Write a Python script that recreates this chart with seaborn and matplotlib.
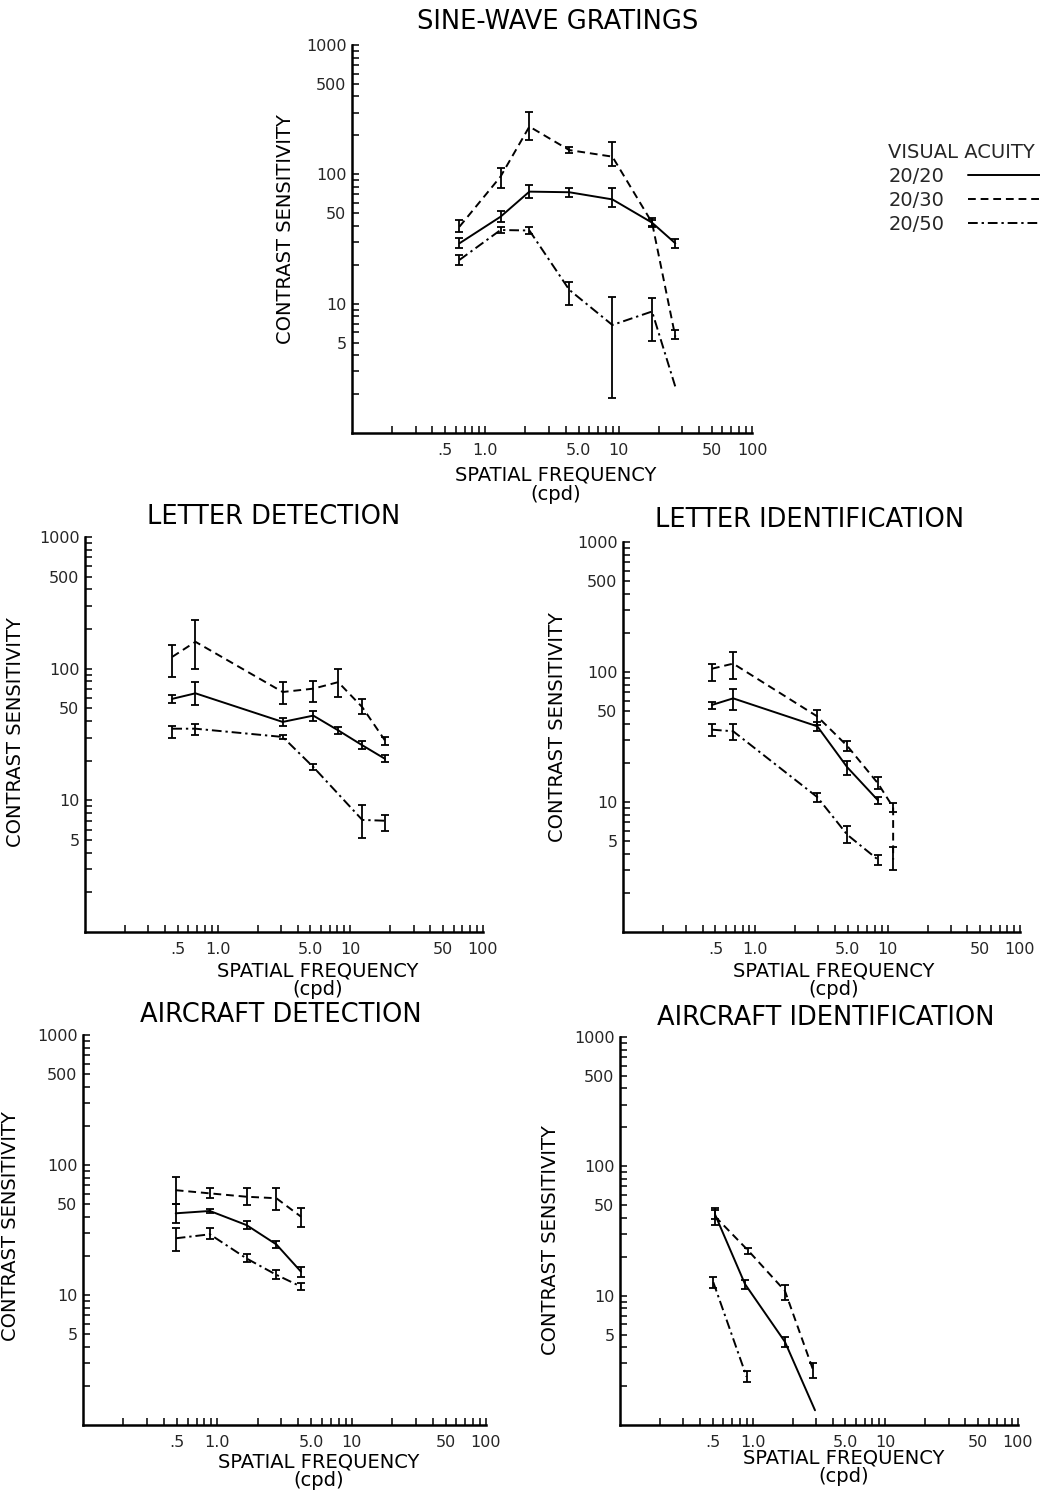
import matplotlib
matplotlib.use("Agg")
import matplotlib.pyplot as plt
import pandas as pd
import seaborn as sns
from matplotlib.lines import Line2D
from matplotlib.ticker import FixedLocator, FixedFormatter, NullFormatter

# ---------- DATA ----------
ACUITY = ["20/20", "20/30", "20/50"]

# sine-wave gratings
sw_f = [0.64, 1.3, 2.14, 4.26, 8.97, 17.8, 26.6]
sw20_cs = [29.3, 47, 73.5, 72.7, 64, 42.3, 29.3]
sw20_lo = [27, 43, 65.4, 67.3, 55.6, 39.5, 27]
sw20_hi = [32.2, 51.6, 82.6, 77.9, 77.9, 45.8, 31.5]
sw30_cs = [39.4, 96, 234, 154, 137, 42.3, 5.56]
sw30_lo = [36, 78, 184, 146, 115, 40, 5.3]
sw30_hi = [44.4, 111, 305, 163, 179, 44, 6.3]
sw50_cs = [21.8, 37.1, 36.8, 12.8, 6.84, 8.7, 2.28]
sw50_lo = [19.9, 35, 34.3, 9.8, 1.87, 5.1, 2.28]
sw50_hi = [23.8, 39.4, 39.4, 14.8, 11.3, 11, 2.28]

# letter detection
ld_f = [0.455, 0.68, 3.09, 5.26, 8.1, 12.3, 18.2]
ld20_cs = [59, 65, 39.4, 44, 34, 26.2, 20.7]
ld20_lo = [55, 53, 37, 40, 32, 24.5, 19.5]
ld20_hi = [63, 79, 42, 48, 36, 28, 22]
ld30_cs = [123, 160, 66.5, 70.5, 79, 51, 28.6]
ld30_lo = [86, 100, 54, 56, 61, 45, 26.5]
ld30_hi = [150, 233, 79, 81, 100, 59, 30.5]
ld50_f = [0.455, 0.68, 3.09, 5.26, 12.3, 18.2]
ld50_cs = [35, 35, 30.3, 17.9, 7.1, 7.0]
ld50_lo = [30, 31.5, 29, 17, 5.2, 5.9]
ld50_hi = [37, 38, 31.5, 18.8, 9.2, 7.7]

# letter identification
li_f = [0.47, 0.68, 2.94, 4.95, 8.45]
li20_cs = [55.8, 62.7, 38.2, 18.5, 10.3]
li20_lo = [52, 51, 35, 16.2, 9.6]
li20_hi = [59, 74.6, 41, 20.7, 11]
li30_f = [0.47, 0.68, 2.94, 4.95, 8.45, 11.0, 11.0]
li30_cs = [106, 116, 45.5, 27, 13.9, 9.1, 3.6]
li30_lo = [86, 89, 39, 24.5, 12.5, 8.4, 3.0]
li30_hi = [116, 142, 51, 29.5, 15.5, 9.8, 4.5]
li50_cs = [36, 35, 10.9, 5.6, 3.6]
li50_lo = [32, 30, 10, 4.8, 3.3]
li50_hi = [40, 39.5, 11.8, 6.5, 3.9]

# aircraft detection
ad_f = [0.49, 0.88, 1.65, 2.75, 4.2]
ad20_cs = [42.5, 44.3, 34.5, 24.5, 15.1]
ad20_lo = [36, 42.5, 32, 23, 13.8]
ad20_hi = [50, 46, 37, 26, 16.5]
ad30_cs = [64, 60.5, 57, 55.5, 40]
ad30_lo = [50, 55.5, 49, 45, 33.6]
ad30_hi = [81, 66, 66, 66, 46.4]
ad50_cs = [27.3, 29.3, 19.1, 14.3, 11.6]
ad50_lo = [21.7, 27, 18, 13.2, 10.9]
ad50_hi = [33, 33, 20.5, 15.5, 12.3]

# aircraft identification
ai20_f = [0.52, 0.875, 1.75, 2.95]
ai20_cs = [42.5, 12.3, 4.4, 1.3]
ai20_lo = [39, 11.3, 4.0, 1.3]
ai20_hi = [46, 13.3, 4.8, 1.3]
ai30_f = [0.52, 0.93, 1.75, 2.86]
ai30_cs = [41, 22.2, 10.9, 2.65]
ai30_lo = [35, 21, 9.2, 2.3]
ai30_hi = [48, 23.5, 12, 3.0]
ai50_f = [0.505, 0.9]
ai50_cs = [12.7, 2.36]
ai50_lo = [11.5, 2.15]
ai50_hi = [14, 2.6]

X_TICKS = [0.5, 1, 5, 10, 50, 100]
X_LABELS = [".5", "1.0", "5.0", "10", "50", "100"]
Y_TICKS = [5, 10, 50, 100, 500, 1000]
Y_LABELS = ["5", "10", "50", "100", "500", "1000"]

# ---------- STYLE ----------
sns.set_theme(style="ticks")
plt.rcParams["font.family"] = ["DejaVu Sans"]
DASHES = {"20/20": "", "20/30": (4, 2.5), "20/50": (5, 2, 1.2, 2)}
LW = 1.4

fig = plt.figure(figsize=(10.4, 14.94), dpi=100)
W, H = 1040, 1494


def add_ax(left, right, top, bottom):
    return fig.add_axes([left / W, 1 - bottom / H, (right - left) / W, (bottom - top) / H])


def draw_panel(ax, series, ylab_xy, xlab_xy):
    frames = []
    for acu, (f, cs, lo, hi) in zip(ACUITY, series):
        frames.append(pd.DataFrame({"freq": f, "cs": cs, "lo": lo, "hi": hi, "acuity": acu}))
    df = pd.concat(frames, ignore_index=True)

    ax.set_xscale("log")
    ax.set_yscale("log")
    sns.lineplot(data=df, x="freq", y="cs", style="acuity", style_order=ACUITY,
                 dashes=DASHES, color="black", lw=LW, estimator=None, sort=False,
                 legend=False, ax=ax)
    eb = df[df["hi"] > df["lo"]]
    ax.errorbar(eb["freq"], eb["cs"], yerr=[eb["cs"] - eb["lo"], eb["hi"] - eb["cs"]],
                fmt="none", ecolor="black", elinewidth=1.3, capsize=3, capthick=1.3)

    ax.set_xlim(0.1, 100)
    ax.set_ylim(1, 1000)
    minor_x = [k * 10.0 ** e for e in (-1, 0, 1) for k in range(2, 10)]
    minor_y = [k * 10.0 ** e for e in (0, 1, 2) for k in range(2, 10)]
    ax.xaxis.set_major_locator(FixedLocator(X_TICKS))
    ax.xaxis.set_major_formatter(FixedFormatter(X_LABELS))
    ax.xaxis.set_minor_locator(FixedLocator(minor_x))
    ax.xaxis.set_minor_formatter(NullFormatter())
    ax.yaxis.set_major_locator(FixedLocator(Y_TICKS))
    ax.yaxis.set_major_formatter(FixedFormatter(Y_LABELS))
    ax.yaxis.set_minor_locator(FixedLocator(minor_y))
    ax.yaxis.set_minor_formatter(NullFormatter())
    ax.tick_params(which="both", direction="in", length=5, width=1.1, color="black")
    ax.tick_params(axis="x", which="major", pad=7, labelsize=11.5)
    ax.tick_params(axis="y", which="major", pad=4, labelsize=11.5)
    sns.despine(ax=ax)
    for s in ("left", "bottom"):
        ax.spines[s].set_linewidth(1.8)
        ax.spines[s].set_color("black")

    ax.set_ylabel("CONTRAST SENSITIVITY", fontsize=14, color="black")
    ax.yaxis.set_label_coords(*ylab_xy)
    ax.set_xlabel("SPATIAL FREQUENCY\n(cpd)", fontsize=14, color="black", linespacing=1.0)
    ax.xaxis.set_label_coords(*xlab_xy)
    ax.xaxis.label.set_va("top")


# ---------- PANELS ----------
ax1 = add_ax(352, 752, 45, 433)
draw_panel(ax1, [(sw_f, sw20_cs, sw20_lo, sw20_hi),
                 (sw_f, sw30_cs, sw30_lo, sw30_hi),
                 (sw_f, sw50_cs, sw50_lo, sw50_hi)],
           (-0.1425, 0.526), (0.51, -0.085))

ax2 = add_ax(85, 483, 537, 932)
draw_panel(ax2, [(ld_f, ld20_cs, ld20_lo, ld20_hi),
                 (ld_f, ld30_cs, ld30_lo, ld30_hi),
                 (ld50_f, ld50_cs, ld50_lo, ld50_hi)],
           (-0.151, 0.506), (0.585, -0.074))

ax3 = add_ax(623, 1020, 542, 932)
draw_panel(ax3, [(li_f, li20_cs, li20_lo, li20_hi),
                 (li30_f, li30_cs, li30_lo, li30_hi),
                 (li_f, li50_cs, li50_lo, li50_hi)],
           (-0.141, 0.525), (0.53, -0.075))

ax4 = add_ax(83, 486, 1035, 1425)
draw_panel(ax4, [(ad_f, ad20_cs, ad20_lo, ad20_hi),
                 (ad_f, ad30_cs, ad30_lo, ad30_hi),
                 (ad_f, ad50_cs, ad50_lo, ad50_hi)],
           (-0.156, 0.51), (0.586, -0.07))

ax5 = add_ax(620, 1018, 1037, 1425)
draw_panel(ax5, [(ai20_f, ai20_cs, ai20_lo, ai20_hi),
                 (ai30_f, ai30_cs, ai30_lo, ai30_hi),
                 (ai50_f, ai50_cs, ai50_lo, ai50_hi)],
           (-0.151, 0.477), (0.563, -0.06))

# ---------- TITLES ----------
for txt, cx, cy in [("SINE-WAVE GRATINGS", 558, 22),
                    ("LETTER DETECTION", 274, 517),
                    ("LETTER IDENTIFICATION", 810, 520),
                    ("AIRCRAFT DETECTION", 281, 1015),
                    ("AIRCRAFT IDENTIFICATION", 826, 1018)]:
    fig.text(cx / W, 1 - cy / H, txt, ha="center", va="center", fontsize=18.5, color="black")

# ---------- LEGEND ----------
handles = [Line2D([], [], color="black", lw=LW,
                  dashes=(DASHES[a] if DASHES[a] else (None, None))) for a in ACUITY]
leg = fig.legend(handles, ACUITY, title="VISUAL ACUITY", loc="upper right",
                 bbox_to_anchor=(1 + 15 / W, 1 - 143 / H), frameon=False, markerfirst=False,
                 fontsize=14, title_fontsize=14, handlelength=4.5, handletextpad=1.2,
                 labelspacing=0.25, borderpad=0, borderaxespad=0, alignment="left")

fig.savefig("out.png", dpi=100, facecolor="white")
